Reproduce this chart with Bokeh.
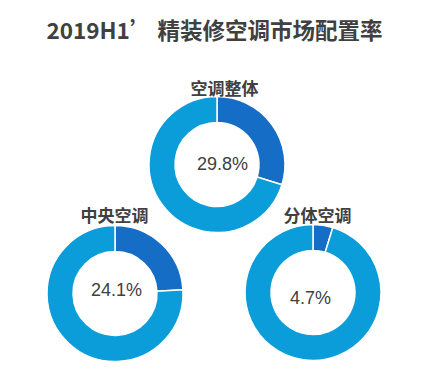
from bokeh.plotting import figure
from bokeh.models import ColumnDataSource
from bokeh.core.properties import value
from bokeh.embed import file_html
from bokeh.resources import INLINE
import math

title = "2019H1’ 精装修空调市场配置率"
categories = ["空调整体", "中央空调", "分体空调"]
rates = [29.8, 24.1, 4.7]

# layout (pixel positions, measured from top-left of the page)
W, H = 413, 370
centers_px = [(216.5, 164), (114.5, 293), (312.5, 292)]
labels_px = [(224, 87), (114, 214), (317, 214)]
values_px = [(222, 163), (116, 289), (310, 297)]
title_px = (214, 28)

DARK = "#166DC6"
LIGHT = "#0A9DD9"
TXT = "#404040"
CJK = "Noto Sans CJK SC"

p = figure(width=W, height=H, x_range=(0, W), y_range=(H, 0),
           output_backend="svg", toolbar_location=None, min_border=0,
           outline_line_color=None)
p.axis.visible = False
p.grid.visible = False

# angles are in screen orientation (counter-clockwise, 0 = 3 o'clock)
top = math.pi / 2
xs, ys, starts, ends, colors = [], [], [], [], []
for (cx, cy), r in zip(centers_px, rates):
    a = 2 * math.pi * r / 100
    # dark slice: clockwise from 12 o'clock
    xs.append(cx); ys.append(cy); starts.append(top - a); ends.append(top); colors.append(DARK)
    # remainder
    xs.append(cx); ys.append(cy); starts.append(top); ends.append(top - a); colors.append(LIGHT)

src = ColumnDataSource(dict(x=xs, y=ys, s=starts, e=ends, c=colors))
p.annular_wedge(x="x", y="y", inner_radius=42, outer_radius=68,
                inner_radius_units="screen", outer_radius_units="screen",
                start_angle="s", end_angle="e", fill_color="c",
                line_color="white", line_width=1.5, source=src)

p.text(x=[c[0] for c in labels_px], y=[c[1] for c in labels_px], text=categories,
       text_align="center", text_baseline="middle", text_font=value(CJK),
       text_font_style="bold", text_font_size="17px", text_color=TXT)

p.text(x=[c[0] for c in values_px], y=[c[1] for c in values_px],
       text=[f"{r:.1f}%" for r in rates], text_align="center",
       text_baseline="middle", text_font=value("Liberation Sans"),
       text_font_size="18px", text_color=TXT)

p.text(x=[title_px[0]], y=[title_px[1]], text=[title], text_align="center",
       text_baseline="middle", text_font=value(CJK), text_font_style="bold",
       text_font_size="22.5px", text_color=TXT)

open("out.html", "w").write(file_html(p, INLINE))
